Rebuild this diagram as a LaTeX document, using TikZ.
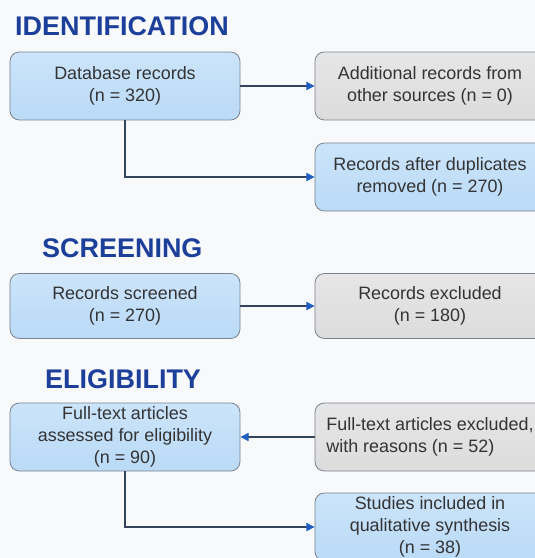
\documentclass[tikz,border=0pt]{standalone}
\usepackage{fontspec}
\setmainfont{Liberation Sans}
\usepackage{xcolor}
\usetikzlibrary{positioning,arrows.meta,calc}

\definecolor{bgwhite}{HTML}{F8F9FB}
\definecolor{headblue}{HTML}{1C3F9A}
\definecolor{boxblue}{HTML}{BADAF7}
\definecolor{boxblueTop}{HTML}{CBE4FA}
\definecolor{boxgray}{HTML}{DCDCDC}
\definecolor{boxgrayTop}{HTML}{E6E6E6}
\definecolor{edgegray}{HTML}{7A838E}
\definecolor{linedark}{HTML}{33445C}
\definecolor{tipblue}{HTML}{1F5FC0}

\tikzset{
    stage/.style={anchor=base west, inner sep=0pt, text=headblue,
        font=\fontsize{23}{26}\selectfont\bfseries},
    recbox/.style={draw=edgegray, line width=0.7pt, rounded corners=8pt,
        minimum width=6.9cm, minimum height=2.04cm, inner sep=0pt, align=center,
        text=black!80, font=\fontsize{15.3}{18.7}\selectfont},
    inbox/.style={recbox, top color=boxblueTop, bottom color=boxblue},
    outbox/.style={recbox, top color=boxgrayTop, bottom color=boxgray},
    flow/.style={draw=linedark, line width=0.9pt,
        -{Triangle[length=7pt,width=7pt,color=tipblue]}}
}

\begin{document}
\begin{tikzpicture}[x=0.03cm, y=-0.03cm]
    \clip (0,0) rectangle (535,558);
    \fill[bgwhite] (0,0) rectangle (535,558);

    % identification
    \node[stage] (hid) at (15,35) {IDENTIFICATION};
    \node[inbox] (db) at (125,86) {Database records\\(n = 320)};
    \node[outbox] (other) at (430,86) {Additional records from\\other sources (n = 0)};
    \node[inbox] (dup) at (430,177) {Records after duplicates\\removed (n = 270)};
    \draw[flow] (db) -- (other);
    \draw[flow] (db.south) |- (dup.west);

    % screening
    \node[stage] (hscr) at (42,257) {SCREENING};
    \node[inbox, minimum height=1.95cm] (scr) at (125,306) {Records screened\\(n = 270)};
    \node[outbox, minimum height=1.95cm] (excl) at (430,306) {Records excluded\\(n = 180)};
    \draw[flow] (scr) -- (excl);

    % eligibility
    \node[stage] (helig) at (45,388) {ELIGIBILITY};
    \node[inbox] (full) at (125,437) {Full-text articles\\assessed for eligibility\\(n = 90)};
    \node[outbox, align=left] (fexcl) at (430,437) {Full-text articles excluded,\\with reasons (n = 52)};
    \node[inbox] (incl) at (430,527) {Studies included in\\qualitative synthesis\\(n = 38)};
    \draw[flow] (fexcl) -- (full);
    \draw[flow] (full.south) |- (incl.west);
\end{tikzpicture}
\end{document}
